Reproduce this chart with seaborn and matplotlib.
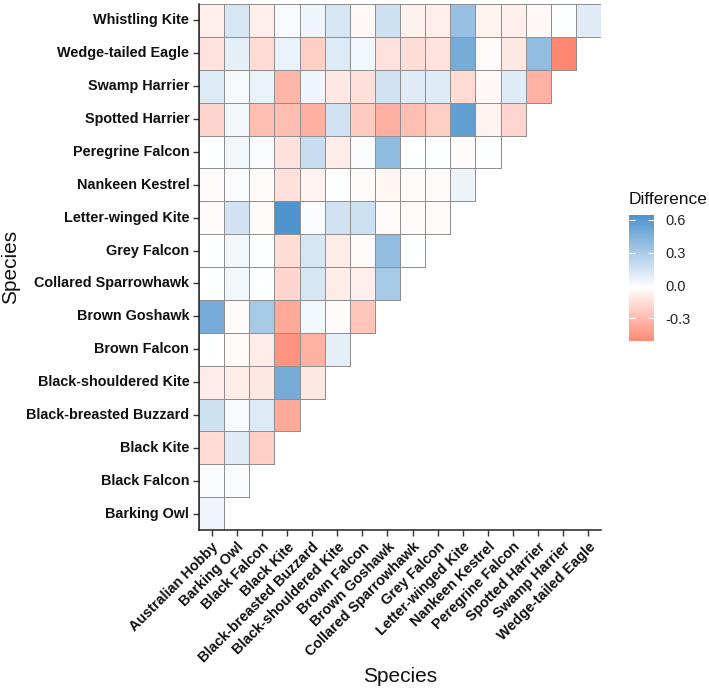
import numpy as np
import pandas as pd
import seaborn as sns
import matplotlib.pyplot as plt
from matplotlib.colors import LinearSegmentedColormap

# Pairwise differences between raptor species (lower triangle)

species_x = ["Australian Hobby", "Barking Owl", "Black Falcon", "Black Kite",
             "Black-breasted Buzzard", "Black-shouldered Kite", "Brown Falcon",
             "Brown Goshawk", "Collared Sparrowhawk", "Grey Falcon",
             "Letter-winged Kite", "Nankeen Kestrel", "Peregrine Falcon",
             "Spotted Harrier", "Swamp Harrier", "Wedge-tailed Eagle"]

species_y = ["Barking Owl", "Black Falcon", "Black Kite", "Black-breasted Buzzard",
             "Black-shouldered Kite", "Brown Falcon", "Brown Goshawk",
             "Collared Sparrowhawk", "Grey Falcon", "Letter-winged Kite",
             "Nankeen Kestrel", "Peregrine Falcon", "Spotted Harrier",
             "Swamp Harrier", "Wedge-tailed Eagle", "Whistling Kite"]

# one list per row, values for columns from Australian Hobby onwards
barking_owl = [0.06]
black_falcon = [0.02, 0.02]
black_kite = [-0.15, 0.12, -0.2]
black_breasted_buzzard = [0.18, 0.03, 0.13, -0.36]
black_shouldered_kite = [-0.08, -0.08, -0.1, 0.5, -0.1]
brown_falcon = [0.0, -0.02, -0.08, -0.45, -0.32, 0.1]
brown_goshawk = [0.5, -0.02, 0.33, -0.36, 0.05, -0.02, -0.24]
collared_sparrowhawk = [0.0, 0.05, 0.0, -0.17, 0.15, -0.08, -0.07, 0.33]
grey_falcon = [0.0, 0.05, 0.0, -0.14, 0.15, -0.08, -0.02, 0.4, 0.0]
letter_winged_kite = [-0.02, 0.17, -0.02, 0.65, 0.02, 0.17, 0.19, -0.02, -0.02, -0.02]
nankeen_kestrel = [-0.02, 0.02, -0.02, -0.13, -0.05, 0.0, -0.02, -0.04, -0.02, -0.02, 0.07]
peregrine_falcon = [0.0, 0.05, 0.02, -0.12, 0.2, -0.08, 0.02, 0.42, 0.0, 0.0, -0.02, 0.0]
spotted_harrier = [-0.18, 0.05, -0.27, -0.27, -0.33, 0.17, -0.22, -0.33, -0.27, -0.2,
                   0.58, -0.05, -0.17]
swamp_harrier = [0.13, 0.04, 0.08, -0.3, 0.06, -0.1, -0.13, 0.17, 0.12, 0.12, -0.15,
                 -0.03, 0.12, -0.32]
wedge_tailed_eagle = [-0.12, 0.1, -0.15, 0.08, -0.2, 0.13, 0.05, -0.12, -0.14, -0.12,
                      0.5, -0.02, -0.1, 0.4, -0.5]
whistling_kite = [-0.07, 0.15, -0.07, 0.03, 0.06, 0.15, -0.03, 0.18, -0.06, -0.07,
                  0.38, -0.05, -0.07, -0.03, 0.0, 0.12]

rows = [barking_owl, black_falcon, black_kite, black_breasted_buzzard,
        black_shouldered_kite, brown_falcon, brown_goshawk, collared_sparrowhawk,
        grey_falcon, letter_winged_kite, nankeen_kestrel, peregrine_falcon,
        spotted_harrier, swamp_harrier, wedge_tailed_eagle, whistling_kite]

mat = np.full((len(species_y), len(species_x)), np.nan)
for i, vals in enumerate(rows):
    mat[i, :len(vals)] = vals

# heatmap draws first row at the top
df = pd.DataFrame(mat[::-1], index=species_y[::-1], columns=species_x)
mask = df.isna()

plt.rcParams['font.family'] = ['Liberation Sans', 'DejaVu Sans']

cmap = LinearSegmentedColormap.from_list("diff", ["#FF6347", "#FFFFFF", "#4F94CD"])

fig = plt.figure(figsize=(7.09, 6.90), dpi=100)
ax = fig.add_axes([199 / 709, 1 - 530 / 690, 402 / 709, 526 / 690])
cax = fig.add_axes([629 / 709, 1 - 341 / 690, 25 / 709, 126 / 690])

sns.heatmap(df, mask=mask, cmap=cmap, vmin=-0.65, vmax=0.65,
            linewidths=0.6, linecolor="#8f8f8f", ax=ax, cbar_ax=cax,
            cbar_kws={"ticks": [-0.3, 0.0, 0.3, 0.6],
                      "boundaries": np.linspace(-0.51, 0.645, 300)})

# no borders on the empty upper triangle
mesh = ax.collections[0]
edges = np.tile([0.56, 0.56, 0.56, 1.0], (mask.size, 1))
edges[mask.values.ravel(), 3] = 0.0
mesh.set_edgecolors(edges)

for s in ["left", "bottom"]:
    ax.spines[s].set_visible(True)
    ax.spines[s].set_color("#222222")
    ax.spines[s].set_linewidth(1.1)

ax.set_xticklabels(species_x, rotation=45, ha="right", rotation_mode="anchor",
                   fontsize=10.4, fontweight="bold", color="#111111")
ax.set_yticklabels(species_y[::-1], rotation=0, fontsize=10.4,
                   fontweight="bold", color="#111111")
ax.tick_params(axis="both", length=4, width=1, color="#333333", pad=3)
ax.set_xlabel("")
ax.set_ylabel("")

fig.text(400 / 709, 1 - 677 / 690, "Species", ha="center", va="center",
         fontsize=15, color="#111111")
fig.text(11 / 709, 1 - 267 / 690, "Species", ha="center", va="center",
         rotation=90, fontsize=15, color="#111111")

cbar = mesh.colorbar
cbar.outline.set_visible(False)
cbar.solids.set_edgecolor("face")
cbar.set_ticklabels(["-0.3", "0.0", "0.3", "0.6"])
cax.tick_params(direction="in", length=4, width=0.8, color="white",
                left=True, right=True, labelsize=10.5, labelcolor="#222222", pad=8)
fig.text(629 / 709, 1 - 199 / 690, "Difference", ha="left", va="center",
         fontsize=12.5, color="#111111")

fig.savefig("out.png", dpi=100)
